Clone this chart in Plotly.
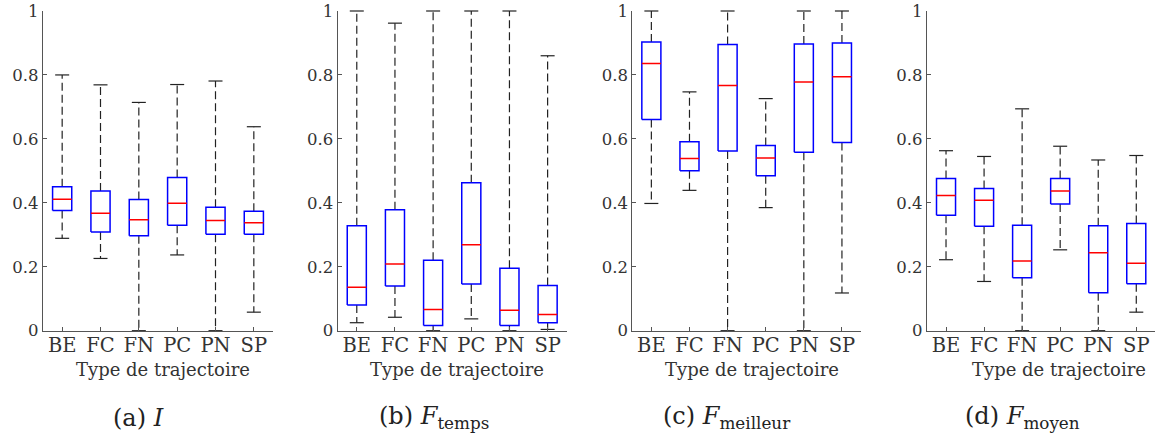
import plotly.graph_objects as go

categories = ["BE", "FC", "FN", "PC", "PN", "SP"]
y_tickvals = [0, 0.2, 0.4, 0.6, 0.8, 1]
y_ticktext = ["0", "0.2", "0.4", "0.6", "0.8", "1"]

# Panel (a) I
a_lower = [0.289, 0.226, 0.0, 0.237, 0.0, 0.058]
a_q1 = [0.376, 0.309, 0.297, 0.330, 0.302, 0.302]
a_median = [0.411, 0.367, 0.347, 0.399, 0.345, 0.338]
a_q3 = [0.450, 0.437, 0.410, 0.479, 0.386, 0.374]
a_upper = [0.800, 0.769, 0.714, 0.770, 0.781, 0.638]

# Panel (b) F_temps
b_lower = [0.025, 0.042, 0.0, 0.037, 0.0, 0.004]
b_q1 = [0.080, 0.140, 0.016, 0.146, 0.016, 0.025]
b_median = [0.136, 0.209, 0.066, 0.269, 0.064, 0.051]
b_q3 = [0.328, 0.378, 0.220, 0.463, 0.195, 0.141]
b_upper = [1.0, 0.962, 1.0, 1.0, 1.0, 0.860]

# Panel (c) F_meilleur
c_lower = [0.398, 0.439, 0.0, 0.385, 0.0, 0.118]
c_q1 = [0.661, 0.500, 0.562, 0.485, 0.558, 0.589]
c_median = [0.836, 0.539, 0.767, 0.540, 0.778, 0.794]
c_q3 = [0.903, 0.591, 0.895, 0.579, 0.897, 0.900]
c_upper = [1.0, 0.747, 1.0, 0.726, 1.0, 1.0]

# Panel (d) F_moyen
d_lower = [0.222, 0.154, 0.0, 0.253, 0.0, 0.058]
d_q1 = [0.361, 0.327, 0.166, 0.396, 0.119, 0.147]
d_median = [0.423, 0.408, 0.218, 0.437, 0.244, 0.211]
d_q3 = [0.476, 0.445, 0.330, 0.476, 0.328, 0.335]
d_upper = [0.563, 0.545, 0.694, 0.577, 0.534, 0.548]

panels = [
    (a_lower, a_q1, a_median, a_q3, a_upper),
    (b_lower, b_q1, b_median, b_q3, b_upper),
    (c_lower, c_q1, c_median, c_q3, c_upper),
    (d_lower, d_q1, d_median, d_q3, d_upper),
]
captions = ["(a) <i>I</i>", "(b) <i>F</i><sub>temps</sub>",
            "(c) <i>F</i><sub>meilleur</sub>", "(d) <i>F</i><sub>moyen</sub>"]
xlabel = "Type de trajectoire"

W, H = 1158, 440
px_domains = [(43, 273), (337.7, 566.7), (632.3, 861), (927, 1155.3)]
y_dom = ((H - 330.7) / H, (H - 11) / H)
title_cx = [163, 457, 751.5, 1058.5]
caption_cx = [138, 434, 727, 1022]

FONT = "DejaVu Serif"
hw = 0.25

fig = go.Figure()
for k, (lo, q1, med, q3, up) in enumerate(panels):
    xa = "x" if k == 0 else f"x{k+1}"
    ya = "y" if k == 0 else f"y{k+1}"
    n = len(categories)
    # whiskers
    wx, wy = [], []
    for i in range(n):
        wx += [i, i, None, i, i, None]
        wy += [q3[i], up[i], None, q1[i], lo[i], None]
    fig.add_trace(go.Scatter(x=wx, y=wy, mode="lines", xaxis=xa, yaxis=ya,
                             line=dict(color="#222222", width=1.2, dash="8px,4px"),
                             showlegend=False, hoverinfo="skip"))
    # caps
    cx, cy = [], []
    for i in range(n):
        cx += [i, i]
        cy += [up[i], lo[i]]
    fig.add_trace(go.Scatter(x=cx, y=cy, mode="markers", xaxis=xa, yaxis=ya,
                             marker=dict(symbol="line-ew", size=10,
                                         line=dict(color="#222222", width=1.2)),
                             cliponaxis=False, showlegend=False, hoverinfo="skip"))
    # boxes
    bx, by = [], []
    for i in range(n):
        bx += [i - hw, i + hw, i + hw, i - hw, i - hw, None]
        by += [q1[i], q1[i], q3[i], q3[i], q1[i], None]
    fig.add_trace(go.Scatter(x=bx, y=by, mode="lines", xaxis=xa, yaxis=ya,
                             line=dict(color="#0000ff", width=1.5),
                             showlegend=False, hoverinfo="skip"))
    # medians
    mx, my = [], []
    for i in range(n):
        mx += [i - hw, i + hw, None]
        my += [med[i], med[i], None]
    fig.add_trace(go.Scatter(x=mx, y=my, mode="lines", xaxis=xa, yaxis=ya,
                             line=dict(color="#ff0000", width=1.5),
                             showlegend=False, hoverinfo="skip"))

layout = dict(
    width=W, height=H,
    margin=dict(l=0, r=0, t=0, b=0),
    paper_bgcolor="white", plot_bgcolor="white",
    font=dict(family=FONT, color="#333333"),
    annotations=[],
)
for k in range(4):
    xs = "xaxis" if k == 0 else f"xaxis{k+1}"
    ys = "yaxis" if k == 0 else f"yaxis{k+1}"
    ya_anchor = "y" if k == 0 else f"y{k+1}"
    xa_anchor = "x" if k == 0 else f"x{k+1}"
    d0, d1 = px_domains[k]
    layout[xs] = dict(domain=[d0 / W, d1 / W], anchor=ya_anchor, range=[-0.5, 5.5],
                      tickvals=list(range(len(categories))), ticktext=categories,
                      showline=True, linecolor="#555555", linewidth=1.2,
                      ticks="inside", ticklen=4, tickcolor="#555555",
                      showgrid=False, zeroline=False, automargin=False,
                      ticklabelstandoff=-3,
                      tickfont=dict(family=FONT, size=19.5, color="#333333"))
    layout[ys] = dict(domain=list(y_dom), anchor=xa_anchor, range=[0, 1],
                      tickvals=y_tickvals, ticktext=y_ticktext,
                      showline=True, linecolor="#555555", linewidth=1.2,
                      ticks="inside", ticklen=4, tickcolor="#555555",
                      showgrid=False, zeroline=False, automargin=False,
                      ticklabeloverflow="allow",
                      tickfont=dict(family=FONT, size=16.5, color="#333333"))
    layout["annotations"].append(dict(
        text=xlabel, x=title_cx[k] / W, y=(H - 369.5) / H, xref="paper", yref="paper",
        xanchor="center", yanchor="middle", showarrow=False,
        font=dict(family=FONT, size=18, color="#333333")))
    layout["annotations"].append(dict(
        text=captions[k], x=caption_cx[k] / W, y=(H - 417.5) / H, xref="paper", yref="paper",
        xanchor="center", yanchor="middle", showarrow=False,
        font=dict(family=FONT, size=24, color="#222222")))

fig.update_layout(**layout)
fig.write_html("out.html")
